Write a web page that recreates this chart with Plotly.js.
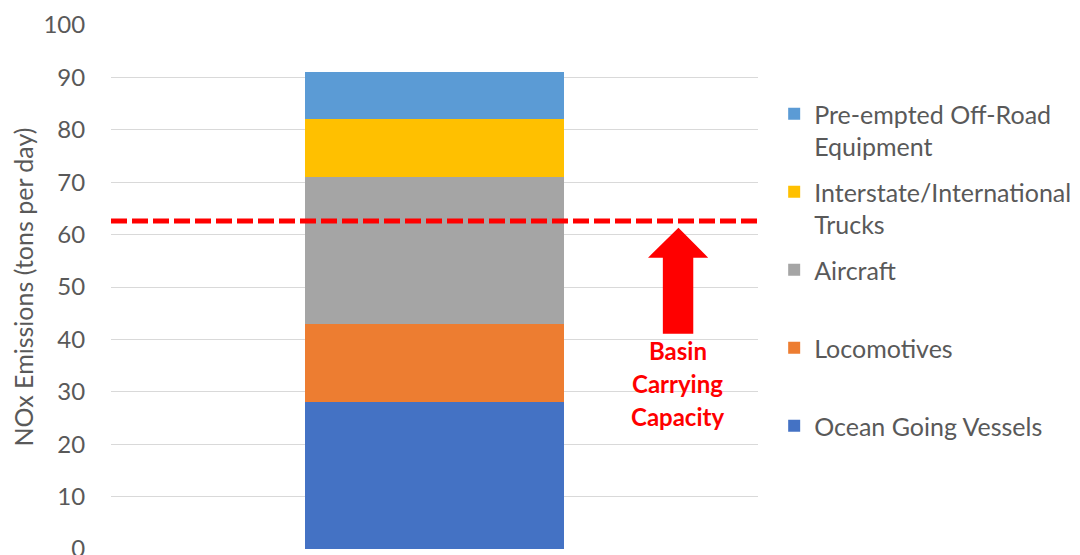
<!DOCTYPE html>
<html>
<head>
<meta charset="utf-8">
<script src="https://cdn.plot.ly/plotly-3.0.1.min.js"></script>
<style>
  html, body { margin: 0; padding: 0; background: #fff; }
  #chart { width: 1080px; height: 555px; }
</style>
</head>
<body>
<div id="chart"></div>
<script>
// NOx emission sources stacked in a single column (tons per day)
const category = ["Sources"];
const sourceNames = [
  "Ocean Going Vessels",
  "Locomotives",
  "Aircraft",
  "Interstate/International<br>Trucks",
  "Pre-empted Off-Road<br>Equipment"
];
const sourceValues = [28, 15, 28, 11, 9];
const sourceColors = ["#4472C4", "#ED7D31", "#A5A5A5", "#FFC000", "#5B9BD5"];

// Basin carrying capacity threshold
const capacity = 62.6;
const capacityLabel = ["Basin", "Carrying", "Capacity"];

const yTicks = [0, 10, 20, 30, 40, 50, 60, 70, 80, 90, 100];

const textGray = "#595959";
const red = "#FF0000";
const fontFamily = "Lato, 'Open Sans', sans-serif";

// legend lists the top segment first; one-line entries get a blank second
// line so every entry has the same height
const traces = sourceNames.map((name, i) => ({
  type: "bar",
  x: category,
  y: [sourceValues[i]],
  name: name.includes("<br>") ? name : name + "<br> ",
  marker: { color: sourceColors[i], line: { width: 0 } },
  legendgroup: "g" + i,
  legendrank: 1000 + (sourceNames.length - i),
  hoverinfo: "name+y"
}));

// plot area spans the left part of the page, the legend sits to its right
const plotFrac = 647 / 969;
const px = (f) => f * plotFrac;

// block arrow pointing up at the threshold line
const arrowPath = [
  [px(0.853), 41.1], [px(0.900), 41.1], [px(0.900), 55.6], [px(0.923), 55.6],
  [px(0.877), 61.3], [px(0.830), 55.6], [px(0.853), 55.6]
].map((p, i) => (i === 0 ? "M " : "L ") + p[0].toFixed(4) + " " + p[1]).join(" ") + " Z";

const labelY = [37.9, 31.6, 25.3];
const annotations = capacityLabel.map((t, i) => ({
  text: t,
  xref: "paper", yref: "y",
  x: px(0.876), y: labelY[i],
  showarrow: false,
  xanchor: "center", yanchor: "middle",
  font: { family: fontFamily, size: 24, color: red, weight: "bold" }
}));

const layout = {
  width: 1080,
  height: 555,
  margin: { l: 111, r: 0, t: 25, b: 6 },
  paper_bgcolor: "#ffffff",
  plot_bgcolor: "#ffffff",
  barmode: "stack",
  bargap: 0.6,
  font: { family: fontFamily, color: textGray },
  xaxis: {
    domain: [0, plotFrac],
    showticklabels: false,
    showgrid: false,
    zeroline: false,
    showline: false,
    fixedrange: true
  },
  yaxis: {
    range: [0, 100],
    tickvals: yTicks,
    ticktext: yTicks.map(String),
    showgrid: true,
    gridcolor: "#D9D9D9",
    gridwidth: 1,
    zeroline: false,
    showline: false,
    ticks: "outside",
    ticklen: 20,
    tickcolor: "rgba(0,0,0,0)",
    ticklabeloverflow: "allow",
    tickfont: { size: 24, color: textGray },
    title: {
      text: "NOx Emissions (tons per day)",
      font: { size: 25, color: textGray },
      standoff: 2
    },
    automargin: false
  },
  legend: {
    x: px(1.025),
    xanchor: "left",
    y: 0.874,
    yanchor: "top",
    traceorder: "grouped",
    tracegroupgap: 10,
    valign: "top",
    font: { size: 25, color: textGray },
    bgcolor: "rgba(0,0,0,0)"
  },
  shapes: [
    {
      type: "line",
      xref: "paper", yref: "y",
      x0: 0, x1: plotFrac,
      y0: capacity, y1: capacity,
      line: { color: red, width: 5, dash: "16px,5px" }
    },
    {
      type: "path",
      xref: "paper", yref: "y",
      path: arrowPath,
      fillcolor: red,
      line: { width: 0 }
    }
  ],
  annotations: annotations,
  showlegend: true
};

Plotly.newPlot("chart", traces, layout, { displayModeBar: false, staticPlot: true });
</script>
</body>
</html>
